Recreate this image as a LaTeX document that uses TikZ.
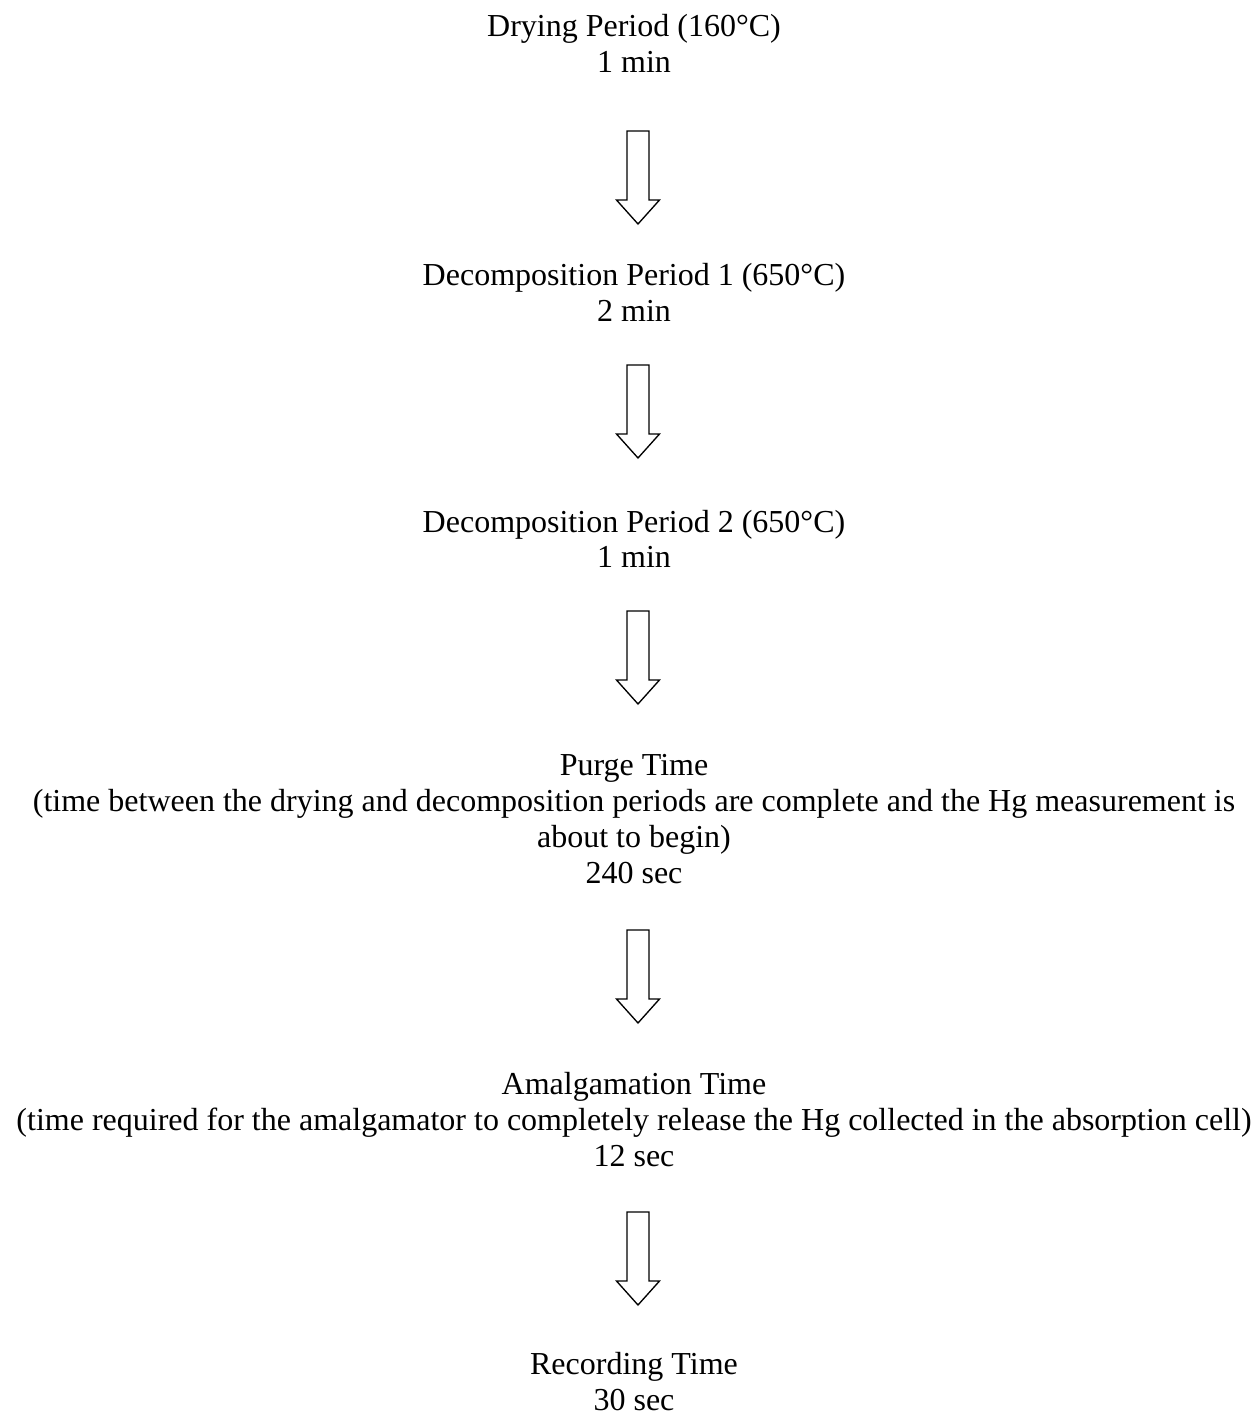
\documentclass[tikz,border=0pt]{standalone}
\usepackage{fontspec}
\setmainfont{Liberation Serif}
\tikzset{
  lbl/.style={anchor=base, inner sep=0pt, font=\fontsize{12pt}{13.5pt}\selectfont},
  pics/blockarrow/.style={code={
    \draw[line width=0.5pt, line join=miter, fill=white]
      (-11,0) -- (11,0) -- (11,69) -- (21.5,69) -- (0,93) -- (-21.5,69) -- (-11,69) -- cycle;
  }}
}
\begin{document}
\begin{tikzpicture}[x=0.375pt, y=-0.375pt]
\useasboundingbox (0,0) rectangle (1257,1416);
\def\cx{634}
% Block 1
\node[lbl] (d1) at (\cx,36) {Drying Period (160°C)};
\node[lbl] (d2) at (\cx,72) {1 min};
\pic at (638,131) {blockarrow};
% Block 2
\node[lbl] (e1) at (\cx,285) {Decomposition Period 1 (650°C)};
\node[lbl] (e2) at (\cx,321) {2 min};
\pic at (638,365) {blockarrow};
% Block 3
\node[lbl] (f1) at (\cx,532) {Decomposition Period 2 (650°C)};
\node[lbl] (f2) at (\cx,567) {1 min};
\pic at (638,611) {blockarrow};
% Block 4
\node[lbl] (p1) at (\cx,775) {Purge Time};
\node[lbl] (p2) at (\cx,811) {(time between the drying and decomposition periods are complete and the Hg measurement is};
\node[lbl] (p3) at (\cx,847) {about to begin)};
\node[lbl] (p4) at (\cx,883) {240 sec};
\pic at (638,930) {blockarrow};
% Block 5
\node[lbl] (a1) at (\cx,1094) {Amalgamation Time};
\node[lbl] (a2) at (\cx,1130) {(time required for the amalgamator to completely release the Hg collected in the absorption cell)};
\node[lbl] (a3) at (\cx,1166) {12 sec};
\pic at (638,1212) {blockarrow};
% Block 6
\node[lbl] (r1) at (\cx,1374) {Recording Time};
\node[lbl] (r2) at (\cx,1410) {30 sec};
\end{tikzpicture}
\end{document}
